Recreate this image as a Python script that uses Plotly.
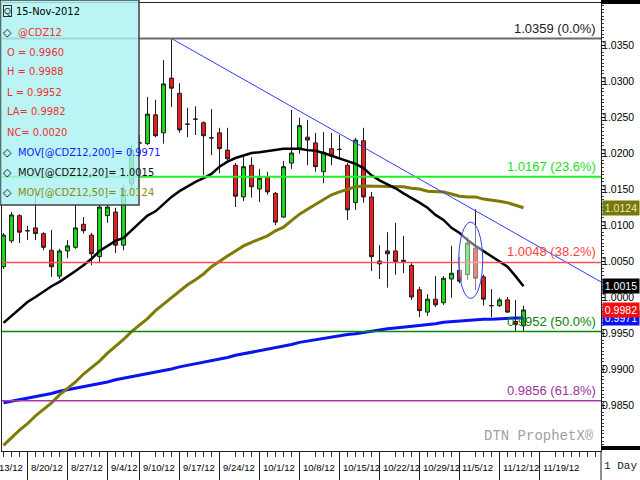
import pandas as pd
import plotly.graph_objects as go

# ---------------- data ----------------
symbol = "@CDZ12"
first_session = "2012-08-15"
opens = [1.0042, 1.0078, 1.0113, 1.0092, 1.0096, 1.0088, 1.0065, 1.0029, 1.0064, 1.0069,
         1.0101, 1.0086, 1.0056, 1.0113, 1.0118, 1.0072, 1.0157, 1.0214, 1.0213, 1.0253,
         1.0228, 1.0304, 1.0283, 1.0240, 1.0247, 1.0242, 1.0221, 1.0228, 1.0204, 1.0183,
         1.0139, 1.0183, 1.0150, 1.0167, 1.0144, 1.0111, 1.0186, 1.0207, 1.0222, 1.0214,
         1.0174, 1.0206, 1.0205, 1.0183, 1.0131, 1.0217, 1.0139, 1.0050, 1.0064, 1.0064,
         1.0051, 1.0044, 1.0010, 0.9979, 0.9997, 0.9992, 1.0025, 1.0037, 1.0031, 1.0068,
         1.0028, 0.9988, 0.9988, 0.9996, 0.9966, 0.9960]
highs = [1.0089, 1.0118, 1.0115, 1.0099, 1.0144, 1.0090, 1.0093, 1.0067, 1.0079, 1.0128,
         1.0111, 1.0089, 1.0128, 1.0128, 1.0124, 1.0156, 1.0211, 1.0225, 1.0278, 1.0274,
         1.0329, 1.0359, 1.0297, 1.0263, 1.0265, 1.0244, 1.0261, 1.0235, 1.0235, 1.0186,
         1.0196, 1.0194, 1.0178, 1.0174, 1.0146, 1.0189, 1.0260, 1.0249, 1.0246, 1.0228,
         1.0229, 1.0228, 1.0225, 1.0186, 1.0221, 1.0235, 1.0146, 1.0072, 1.0090, 1.0103,
         1.0085, 1.0047, 1.0014, 1.0004, 1.0029, 1.0029, 1.0071, 1.0056, 1.0083, 1.0122,
         1.0031, 1.0011, 0.9999, 1.0000, 0.9996, 0.9988]
lows = [1.0039, 1.0075, 1.0075, 1.0079, 1.0079, 1.0065, 1.0028, 1.0025, 1.0054, 1.0067,
        1.0088, 1.0044, 1.0047, 1.0103, 1.0061, 1.0065, 1.0151, 1.0195, 1.0211, 1.0222,
        1.0213, 1.0264, 1.0228, 1.0222, 1.0225, 1.0169, 1.0197, 1.0172, 1.0186, 1.0125,
        1.0133, 1.0138, 1.0132, 1.0142, 1.0100, 1.0110, 1.0178, 1.0199, 1.0183, 1.0174,
        1.0158, 1.0183, 1.0193, 1.0107, 1.0121, 1.0131, 1.0036, 1.0025, 1.0013, 1.0031,
        1.0033, 0.9996, 0.9972, 0.9974, 0.9986, 0.9989, 0.9999, 1.0019, 1.0024, 1.0010,
        0.9988, 0.9972, 0.9986, 0.9978, 0.9952, 0.9952]
closes = [1.0086, 1.0114, 1.0090, 1.0092, 1.0088, 1.0069, 1.0042, 1.0064, 1.0071, 1.0096,
          1.0092, 1.0060, 1.0125, 1.0125, 1.0072, 1.0149, 1.0204, 1.0214, 1.0254, 1.0224,
          1.0296, 1.0290, 1.0232, 1.0240, 1.0247, 1.0224, 1.0221, 1.0206, 1.0192, 1.0140,
          1.0181, 1.0153, 1.0165, 1.0146, 1.0104, 1.0181, 1.0200, 1.0238, 1.0218, 1.0181,
          1.0201, 1.0196, 1.0205, 1.0121, 1.0218, 1.0139, 1.0056, 1.0046, 1.0060, 1.0049,
          1.0049, 1.0000, 0.9981, 0.9997, 0.9989, 1.0026, 1.0033, 1.0022, 1.0075, 1.0026,
          0.9997, 0.9988, 0.9996, 0.9979, 0.9962, 0.9982]
ma20 = [0.9964, 0.9974, 0.9983, 0.9993,
        1.0000, 1.0008, 1.0015, 1.0021, 1.0028, 1.0036, 1.0044, 1.0053, 1.0064, 1.0071,
        1.0078, 1.0082, 1.0093, 1.0103, 1.0113, 1.0119, 1.0129, 1.0139, 1.0147, 1.0154,
        1.0160, 1.0165, 1.0171, 1.0181, 1.0188, 1.0193, 1.0197, 1.0200, 1.0201, 1.0203,
        1.0204, 1.0206, 1.0206, 1.0206, 1.0204, 1.0203, 1.0200, 1.0196, 1.0193, 1.0189,
        1.0185, 1.0179, 1.0169, 1.0162, 1.0157, 1.0151, 1.0144, 1.0138, 1.0131, 1.0124,
        1.0114, 1.0107, 1.0096, 1.0089, 1.0079, 1.0071, 1.0064, 1.0057, 1.0049, 1.0042,
        1.0029, 1.0015]
ma50 = [0.9794, 0.9805, 0.9815, 0.9824, 0.9835, 0.9844, 0.9853, 0.9864, 0.9873, 0.9882,
        0.9893, 0.9902, 0.9911, 0.9922, 0.9931, 0.9941, 0.9952, 0.9961, 0.9970, 0.9981,
        0.9990, 1.0000, 1.0008, 1.0017, 1.0024, 1.0032, 1.0042, 1.0050, 1.0057, 1.0064,
        1.0071, 1.0076, 1.0081, 1.0085, 1.0092, 1.0097, 1.0106, 1.0115, 1.0122, 1.0129,
        1.0136, 1.0142, 1.0146, 1.0150, 1.0153, 1.0154, 1.0154, 1.0154, 1.0154, 1.0153,
        1.0153, 1.0151, 1.0150, 1.0147, 1.0146, 1.0146, 1.0143, 1.0140, 1.0139, 1.0139,
        1.0136, 1.0135, 1.0133, 1.0131, 1.0128, 1.0124]
ma200 = [0.9853, 0.9855, 0.9857, 0.9860, 0.9862, 0.9864, 0.9866, 0.9869, 0.9871, 0.9873,
         0.9876, 0.9878, 0.9880, 0.9882, 0.9885, 0.9887, 0.9889, 0.9891, 0.9894, 0.9896,
         0.9898, 0.9900, 0.9903, 0.9905, 0.9907, 0.9910, 0.9912, 0.9914, 0.9916, 0.9919,
         0.9921, 0.9923, 0.9925, 0.9928, 0.9930, 0.9932, 0.9934, 0.9937, 0.9939, 0.9941,
         0.9943, 0.9945, 0.9946, 0.9948, 0.9949, 0.9951, 0.9953, 0.9954, 0.9956, 0.9957,
         0.9958, 0.9960, 0.9961, 0.9962, 0.9963, 0.9965, 0.9966, 0.9967, 0.9967, 0.9968,
         0.9969, 0.9969, 0.9970, 0.9970, 0.9971, 0.9971]
fib_levels = [1.0359, 1.0167, 1.0048, 0.9952, 0.9856]
fib_pcts = ["0.0%", "23.6%", "38.2%", "50.0%", "61.8%"]
trend_dates = ["2012-09-14", "2012-11-30"]
trend_prices = [1.0359, 1.0019]
highlight_dates = ["2012-11-06", "2012-11-07"]
y_ticks = [0.9850, 0.9900, 0.9950, 1.0000, 1.0050, 1.0100, 1.0150, 1.0200, 1.0250, 1.0300, 1.0350]

# ---------------- styling ----------------
FONT = "Liberation Sans, Arial, sans-serif"
COND = "DejaVu Sans Condensed, Liberation Sans, sans-serif"
MONO = "Liberation Mono, Courier New, monospace"
RED_TXT = "#f03030"
fib_colors = ["#6a6a6a", "#22ee22", "#ff5050", "#0a8a0a", "#a83aa8"]
fib_text_colors = ["#202020", "#22dd22", "#ff4040", "#0a800a", "#a030a0"]
fib_widths = [2, 2, 1.5, 1.5, 1.5]

W, H = 640, 480
LM, RM, TM, BM = 2, 39, 3, 29
plot_w, plot_h = W - LM - RM, H - TM - BM
px_day, px_unit = 8.0, 7200.0

closed = {pd.Timestamp("2012-09-03"), pd.Timestamp("2012-11-22")}
trading_days = [d for d in pd.bdate_range("2012-08-13", "2012-11-30") if d not in closed]
pos = {d.strftime("%Y-%m-%d"): i for i, d in enumerate(trading_days)}
k0 = pos[first_session]
cx = list(range(k0, k0 + len(opens)))

x_min = cx[0] - 1.5 / px_day
x_max = x_min + plot_w / px_day
y_max = 1.0350 + 42 / px_unit
y_min = y_max - plot_h / px_unit


def pxx(px):
    return (px - LM) / plot_w


def pxy(py):
    return (H - BM - py) / plot_h


def xpaper(idx):
    return (idx - x_min) / (x_max - x_min)


fig = go.Figure()
fig.add_trace(go.Candlestick(
    x=cx, open=opens, high=highs, low=lows, close=closes,
    increasing=dict(line=dict(color="#1e1e1e", width=1), fillcolor="#18e018"),
    decreasing=dict(line=dict(color="#1e1e1e", width=1), fillcolor="#ee1c1c"),
    whiskerwidth=0, hoverinfo="skip"))
fig.add_trace(go.Scatter(x=cx, y=ma200, mode="lines", line=dict(color="#0a14f0", width=3), hoverinfo="skip"))
fig.add_trace(go.Scatter(x=cx, y=ma50, mode="lines", line=dict(color="#7f7a05", width=3), hoverinfo="skip"))
fig.add_trace(go.Scatter(x=cx, y=ma20, mode="lines", line=dict(color="#000000", width=2.5), hoverinfo="skip"))
fig.add_trace(go.Scatter(x=[pos[d] for d in trend_dates], y=trend_prices, mode="lines",
                         line=dict(color="#2f3cff", width=1), hoverinfo="skip"))

shapes = []
annotations = []

# Fibonacci retracement lines and labels
for lvl, pct, c, tc, w in zip(fib_levels, fib_pcts, fib_colors, fib_text_colors, fib_widths):
    shapes.append(dict(type="line", xref="paper", yref="y", x0=0, x1=1, y0=lvl, y1=lvl,
                       line=dict(color=c, width=w), layer="above"))
    annotations.append(dict(xref="paper", yref="y", x=1, y=lvl, xanchor="right", yanchor="bottom",
                            xshift=-3, yshift=1, showarrow=False, text=f"{lvl:.4f} ({pct})",
                            font=dict(family=FONT, size=13, color=tc)))

# highlight ellipse
hi = [pos[d] for d in highlight_dates]
bodies = [v for d in highlight_dates for v in (opens[pos[d] - k0], closes[pos[d] - k0])]
shapes.append(dict(type="circle", xref="x", yref="y", x0=hi[0] - 1.1, x1=hi[-1] + 0.9,
                   y0=min(bodies) - 0.0028, y1=max(bodies) + 0.0029,
                   line=dict(color="#3040f0", width=1), fillcolor="rgba(255,255,255,0.45)", layer="above"))

# info box
shapes.append(dict(type="rect", xref="paper", yref="paper", x0=pxx(0), x1=pxx(139), y0=pxy(205), y1=pxy(0),
                   fillcolor="rgba(172,242,242,0.82)", line=dict(color="#404040", width=1.5), layer="above"))

# week separators and labels in the date strip
week_idx, week_txt = [], []
for i, d in enumerate(trading_days):
    if i == 0 or d.isocalendar()[1] != trading_days[i - 1].isocalendar()[1]:
        week_idx.append(i)
        week_txt.append(f"{d.month}/{d.day}/{d:%y}")
for wi, wt in zip(week_idx, week_txt):
    xp = xpaper(wi)
    if -0.1 < xp and xp + pxx(34) < 1:
        shapes.append(dict(type="line", xref="paper", yref="paper", x0=xp, x1=xp, y0=pxy(480), y1=pxy(451),
                           line=dict(color="#202020", width=1)))
        annotations.append(dict(xref="paper", yref="paper", x=xp, y=pxy(467), xanchor="left", yanchor="middle",
                                xshift=1, showarrow=False, text=wt,
                                font=dict(family=FONT, size=9.5, color="black")))

# right-axis furniture
shapes.append(dict(type="rect", xref="paper", yref="paper", x0=1, x1=pxx(641), y0=pxy(4), y1=pxy(-1),
                   fillcolor="black", line=dict(width=0)))
shapes.append(dict(type="rect", xref="paper", yref="paper", x0=1, x1=pxx(641), y0=pxy(450), y1=pxy(446),
                   fillcolor="black", line=dict(width=0)))
shapes.append(dict(type="line", xref="paper", yref="paper", x0=1, x1=1, y0=pxy(480), y1=pxy(451),
                   line=dict(color="#202020", width=1)))
annotations.append(dict(xref="paper", yref="paper", x=pxx(620), y=pxy(466), xanchor="center", yanchor="middle",
                        showarrow=False, text="1 Day", font=dict(family=MONO, size=11, color="#202020")))
annotations.append(dict(xref="paper", yref="paper", x=pxx(596), y=pxy(436), xanchor="right", yanchor="middle",
                        showarrow=False, text="DTN ProphetX®", font=dict(family=MONO, size=14, color="#a0a0a0")))

# last-value tags on the price axis
tags = [(ma50[-1], "#77770a", "#e8e8c8"), (ma20[-1], "#000000", "white"),
        (ma200[-1], "#0a14f0", "white"), (closes[-1], "#f01010", "white")]
for v, bg, fc in tags:
    annotations.append(dict(xref="paper", yref="y", x=1, y=v, xanchor="left", yanchor="middle", xshift=1,
                            showarrow=False, text=f"{v:.4f}", bgcolor=bg, width=36, height=14, borderpad=0,
                            font=dict(family=FONT, size=10.5, color=fc)))

# info box text
last = len(closes) - 1
nc = closes[last] - closes[last - 1]
rows = [
    (f"{trading_days[cx[last]]:%d-%b-%Y}", "black", 14, False),
    (symbol, RED_TXT, 16, True),
    (f"O = {opens[last]:.4f}", RED_TXT, 5, False),
    (f"H = {highs[last]:.4f}", RED_TXT, 5, False),
    (f"L = {lows[last]:.4f}", RED_TXT, 5, False),
    (f"LA= {closes[last]:.4f}", RED_TXT, 5, False),
    (f"NC= {nc:.4f}", RED_TXT, 5, False),
    (f"MOV[{symbol},200]= {ma200[last]:.4f}", "#1a1aff", 16, True),
    (f"MOV[{symbol},20]= {ma20[last]:.4f}", "#101010", 16, True),
    (f"MOV[{symbol},50]= {ma50[last]:.4f}", "#8a8a10", 16, True),
]
for r, (txt, col, x0, dia) in enumerate(rows):
    yy = pxy(12 + 20 * r)
    annotations.append(dict(xref="paper", yref="paper", x=pxx(x0), y=yy, xanchor="left", yanchor="middle",
                            showarrow=False, text=txt, font=dict(family=COND, size=11, color=col)))
    if dia:
        annotations.append(dict(xref="paper", yref="paper", x=pxx(7), y=yy, xanchor="center", yanchor="middle",
                                showarrow=False, text="◇", font=dict(family="DejaVu Sans", size=11, color="black")))
annotations.append(dict(xref="paper", yref="paper", x=pxx(7), y=pxy(11), xanchor="center", yanchor="middle",
                        showarrow=False, text="Q", bordercolor="#303030", borderwidth=1, borderpad=0,
                        font=dict(family=FONT, size=9, color="#303030")))

fig.update_layout(
    width=W, height=H, margin=dict(l=LM, r=RM, t=TM, b=BM, pad=0),
    paper_bgcolor="white", plot_bgcolor="white", showlegend=False,
    font=dict(family=FONT, size=12, color="black"),
    shapes=shapes, annotations=annotations,
)
fig.update_xaxes(range=[x_min, x_max], showticklabels=False, ticks="", showgrid=False, zeroline=False,
                 showline=True, linecolor="#202020", linewidth=1, mirror=True,
                 rangeslider=dict(visible=False),
                 minor=dict(dtick=1, tick0=0, ticks="outside", ticklen=5, tickcolor="#303030", showgrid=False))
fig.update_yaxes(side="right", range=[y_min, y_max], tickvals=y_ticks, tickformat=".4f",
                 ticks="outside", ticklen=3, tickcolor="black", showgrid=False, zeroline=False,
                 showline=True, linecolor="#202020", linewidth=1, mirror=True,
                 ticklabelstandoff=-5,
                 tickfont=dict(family=FONT, size=10.5, color="black"),
                 minor=dict(dtick=0.0005, ticks="outside", ticklen=2, tickcolor="#404040", showgrid=False))

fig.write_html("out.html", config={"displayModeBar": False},
               post_script="document.body.style.margin='0';document.body.style.overflow='hidden';")
